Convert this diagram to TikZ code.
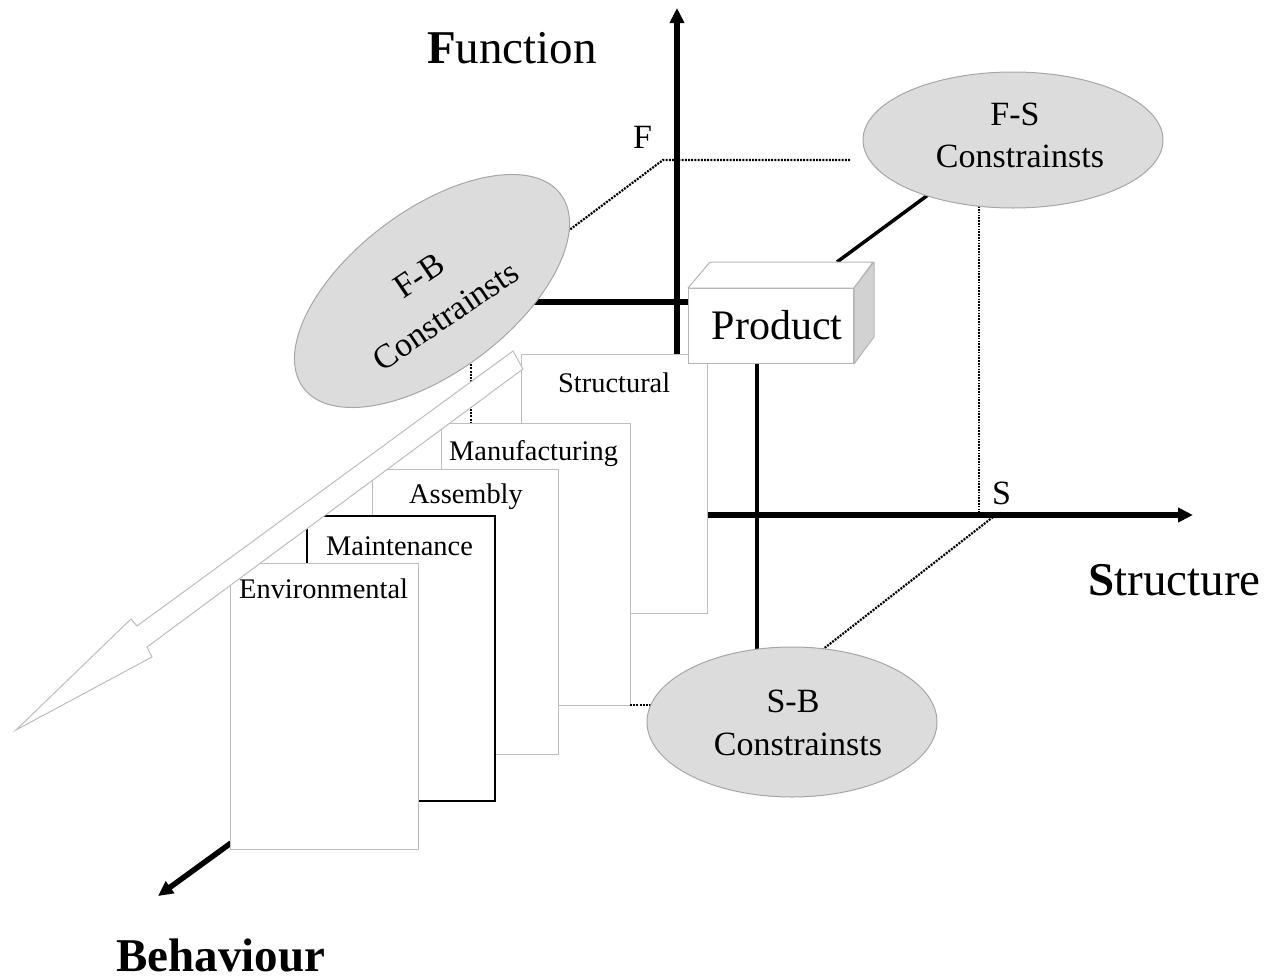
\documentclass[tikz,border=0pt]{standalone}
\usepackage{fontspec}
\setmainfont{Liberation Serif}
\usetikzlibrary{arrows.meta,shapes.geometric}
\definecolor{sheetgray}{HTML}{BDBDBD}
\definecolor{ellfill}{HTML}{DCDCDC}
\definecolor{ellline}{HTML}{A6A6A6}
\definecolor{boxline}{HTML}{B4B4B4}
\definecolor{boxside}{HTML}{D2D2D2}
\begin{document}
\begin{tikzpicture}[x=1pt,y=-1pt,
  axis/.style={line width=5.5pt,-{Triangle[length=15pt,width=14pt]}},
  heavy/.style={line width=5.5pt},
  link/.style={line width=3.5pt},
  dotline/.style={line width=2.2pt,dash pattern=on 2pt off 1.2pt},
  thindot/.style={line width=1.4pt,dash pattern=on 1.6pt off 1.2pt},
  sheet/.style={draw=sheetgray,line width=1pt,fill=white,anchor=north west,
    inner sep=0pt,outer sep=0pt},
  sheetlabel/.style={anchor=base west,inner sep=0pt,font=\fontsize{28.4}{30}\selectfont},
  cons/.style={ellipse,draw=ellline,fill=ellfill,line width=1pt,inner sep=0pt},
  constext/.style={anchor=base,inner sep=0pt,font=\fontsize{34}{36}\selectfont},
  axislabel/.style={anchor=base west,inner sep=0pt,font=\fontsize{47}{50}\selectfont},
  pointlabel/.style={anchor=base west,inner sep=0pt,font=\fontsize{34}{36}\selectfont},
  hollow/.style={draw=sheetgray,line width=1pt,fill=white,line join=miter}
]
\useasboundingbox (0,0) rectangle (1267,980);

% reference points
\coordinate (ftip) at (677,8);
\coordinate (fbase) at (677,356);
\coordinate (fcorner) at (663,160);
\coordinate (fend) at (851,160);
\coordinate (fbtap) at (560,237);
\coordinate (fbdrop) at (471,345);
\coordinate (stip) at (1193,515);
\coordinate (sbase) at (708,515);
\coordinate (spoint) at (993,517);
\coordinate (btail) at (231,843);
\coordinate (btip) at (158,896);
\coordinate (fbjoin) at (515,302);
\coordinate (ptop) at (837,262);
\coordinate (pdrop) at (757,363);
\coordinate (sbtop) at (757,656);
\coordinate (fsdrop) at (979,195);
\coordinate (fsjoin) at (932,192);

% axes and links drawn first, so the sheets and shapes cover their ends
\draw[axis] (fbase) -- (ftip);
\draw[axis] (sbase) -- (stip);
\draw[axis] (btail) -- (btip);
\draw[dotline] (fbtap) -- (fcorner) -- (fend);
\draw[thindot] (fsdrop) -- (fsdrop |- sbase);
\draw[dotline] (spoint) -- (822,650);
\draw[link] (pdrop) -- (sbtop);
\draw[link] (fsjoin) -- (ptop);

% stack of constraint sheets, back to front
\node[sheet,minimum width=186pt,minimum height=259pt] (structural) at (521,354) {};
\draw[dotline] (fbdrop) -- (fbdrop |- 0,423);
\node[sheet,minimum width=189pt,minimum height=282pt] (manufacturing) at (441,423) {};
\node[sheet,minimum width=186pt,minimum height=285pt] (assembly) at (372,469) {};
\node[sheet,draw=black,line width=2pt,minimum width=188pt,minimum height=285pt] (maintenance) at (307,516) {};
\node[sheet,minimum width=188pt,minimum height=286pt] (environmental) at (230,563) {};

\node[sheetlabel] (lstructural) at (558,392) {Structural};
\node[sheetlabel] (lmanufacturing) at (449,460) {Manufacturing};
\node[sheetlabel] (lassembly) at (409,503) {Assembly};
\node[sheetlabel] (lmaintenance) at (326,555) {Maintenance};
\node[sheetlabel] (lenvironmental) at (239,598) {Environmental};

% hollow arrow laid over the sheet corners
\draw[hollow] (513,351) -- (137,626) -- (131,619) -- (16,730) -- (152,657)
  -- (147,647) -- (523,369) -- cycle;

% dotted tie from the manufacturing sheet to the S-B constraints
\draw[dotline] (manufacturing.south east) -- ++(26,0);

% heavy tie from F-B constraints to the product
\draw[heavy] (fbjoin) -- (688,302);

% constraint ellipses
\node[cons,minimum width=322pt,minimum height=162pt,rotate=37] (fb) at (432,291) {};
\node[cons,minimum width=300pt,minimum height=136pt] (fs) at (1013,140) {};
\node[cons,minimum width=290pt,minimum height=150pt] (sb) at (792,722) {};

% ellipse captions, one node per line
\node[constext,rotate=34] (fbtop) at (425,285) {F-B};
\node[constext,rotate=34] (fbbot) at (452,325) {Constrainsts};
\node[constext] (fstop) at (1015,125) {F-S};
\node[constext] (fsbot) at (1020,167) {Constrainsts};
\node[constext] (sbtop) at (793,712) {S-B};
\node[constext] (sbbot) at (798,755) {Constrainsts};

% product box
\node[draw=boxline,fill=white,line width=1pt,anchor=north west,inner sep=0pt,
  minimum width=165pt,minimum height=75pt] (product) at (688,288) {};
\draw[draw=boxline,fill=white,line width=1pt,line join=round]
  (product.north west) -- ++(22,-26) -- ++(163,0) -- (product.north east) -- cycle;
\draw[draw=boxline,fill=boxside,line width=1pt,line join=round]
  (product.north east) -- ++(20,-26) -- ++(0,75) -- (product.south east) -- cycle;
\node[anchor=base,inner sep=0pt,font=\fontsize{42}{44}\selectfont] (ptext) at (777,339) {Product};

% axis and point labels
\node[axislabel] (lfunction) at (427,63) {\textbf{F}unction};
\node[axislabel] (lstructure) at (1088,595) {\textbf{S}tructure};
\node[axislabel] (lbehaviour) at (116,971) {\textbf{Behaviour}};
\node[pointlabel] (lf) at (633,148) {F};
\node[pointlabel] (ls) at (992,504) {S};
\end{tikzpicture}
\end{document}
